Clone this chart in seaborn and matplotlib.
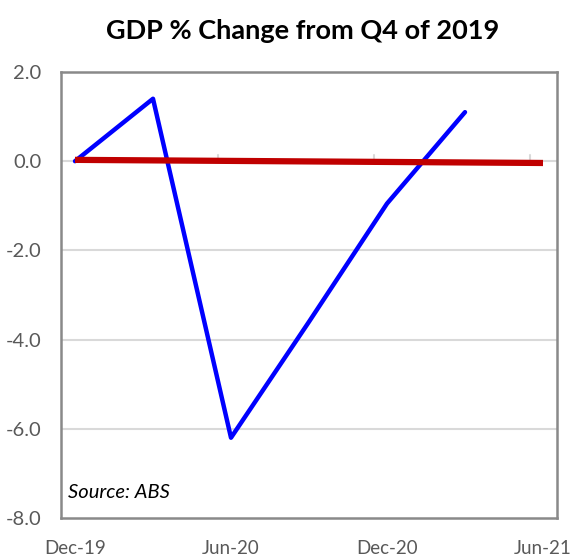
import matplotlib
matplotlib.use("Agg")
import matplotlib.pyplot as plt
import seaborn as sns
import pandas as pd
import numpy as np

# Data (months since Dec-19)
quarters = ["Dec-19", "Mar-20", "Jun-20", "Sep-20", "Dec-20", "Mar-21"]
quarter_month = [0, 3, 6, 9, 12, 15]
gdp_change = [0.0, 1.4, -6.2, -3.6, -0.95, 1.1]

trend_month = [0, 18]
trend_values = [0.03, -0.04]

tick_labels = ["Dec-19", "Jun-20", "Dec-20", "Jun-21"]
tick_month = [0, 6, 12, 18]
y_ticks = [2.0, 0.0, -2.0, -4.0, -6.0, -8.0]

sns.set_theme(style="white")
plt.rcParams["font.family"] = ["Lato", "DejaVu Sans"]

L, R, T, B = 61, 557, 72, 518
fig = plt.figure(figsize=(5.73, 5.59), dpi=100)
ax = fig.add_axes([L/573, 1-B/559, (R-L)/573, (B-T)/559])

df = pd.DataFrame({"month": quarter_month, "gdp": gdp_change})
tdf = pd.DataFrame({"month": trend_month, "val": trend_values})

# gridlines
for yv in y_ticks:
    if -8 < yv < 2:
        ax.axhline(yv, color="#d9d9d9", lw=1.5, zorder=0)

# small tick marks on zero axis
for m in [5.5, 11.5, 17.5]:
    ax.plot([m, m], [0, 0.13], color="#d9d9d9", lw=1.5, zorder=0)

sns.lineplot(data=df, x="month", y="gdp", ax=ax, color="#0000ff", lw=3.2,
             solid_capstyle="round", zorder=3)
sns.lineplot(data=tdf, x="month", y="val", ax=ax, color="#c00000", lw=4.5,
             solid_capstyle="butt", zorder=4)

# x range: Dec-19 at px 75, 26 px per month
ax.set_xlim(-(75 - L)/26, (R - 75)/26)
ax.set_ylim(-8, 2)
ax.set_yticks(y_ticks)
ax.set_yticklabels([f"{v:.1f}" for v in y_ticks])
ax.set_xticks(tick_month)
ax.set_xticklabels(tick_labels)
ax.set_xlabel("")
ax.set_ylabel("")
ax.tick_params(axis="both", length=0, colors="#595959")
ax.tick_params(axis="x", pad=16, labelsize=13.5)
ax.tick_params(axis="y", pad=14, labelsize=14.5)

for s in ax.spines.values():
    s.set_visible(True)
    s.set_color("#898989")
    s.set_linewidth(1.8)

ax.text((68 - L)/(R - L), 1 - (492 - T)/(B - T), "Source: ABS",
        transform=ax.transAxes, fontsize=14.5,
        style="italic", color="black", ha="left", va="center")

fig.text(303/573, 1-31/559, "GDP % Change from Q4 of 2019", fontsize=19.5,
         fontweight="bold", ha="center", va="center", color="black")

fig.savefig("out.png", dpi=100)
